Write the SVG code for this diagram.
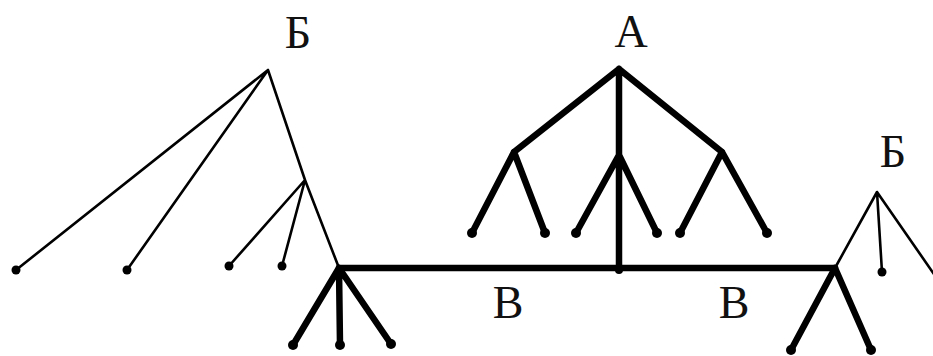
<svg xmlns="http://www.w3.org/2000/svg" width="933" height="356" viewBox="0 0 933 356">
<style>
.thin{stroke:#000;stroke-width:2.6;fill:none;stroke-linecap:round}
.thick{stroke:#000;stroke-width:6.5;fill:none;stroke-linecap:round}
.dot{fill:#000}
.lbl{font-family:"Liberation Serif","Times New Roman",serif;font-size:46px;fill:#111;text-anchor:middle}
</style>
<rect width="933" height="356" fill="#fff"/>
<g id="connectors">
<!-- left Б tree -->
<path class="thin" d="M268,70 L16,270 M268,70 L127,270 M268,70 L305,180 L339,268 M305,180 L229,266 M305,180 L282,266"/>
<!-- bottom-left node -->
<path class="thick" d="M339,268 L293,345 M339,268 L340,345 M339,268 L391,344"/>
<!-- horizontal spine -->
<path class="thick" d="M339,268 L835,268" stroke-linecap="butt"/>
<!-- A tree -->
<path class="thick" d="M619,69 L619,268 M619,69 L514,152 M619,69 L722,152 M514,152 L472,233 M514,152 L545,233 M619,155 L576,233 M619,155 L657,233 M722,152 L680,233 M722,152 L767,233"/>
<!-- right Б tree -->
<path class="thin" d="M877,192 L835,268 M877,192 L882,272 M877,192 L945,290"/>
<!-- bottom-right node -->
<path class="thick" d="M835,268 L791,350 M835,268 L871,350"/>
</g>
<g id="node-B-left">
<text class="lbl" x="298" y="48">Б</text>
<circle class="dot" cx="16" cy="270" r="4.5"/>
<circle class="dot" cx="127" cy="270" r="4.5"/>
<circle class="dot" cx="229" cy="266" r="4.5"/>
<circle class="dot" cx="282" cy="266" r="4.5"/>
</g>
<g id="node-bl">
<circle class="dot" cx="293" cy="345" r="5"/>
<circle class="dot" cx="340" cy="345" r="5"/>
<circle class="dot" cx="391" cy="344" r="5"/>
</g>
<g id="node-A">
<text class="lbl" x="631" y="47">А</text>
<circle class="dot" cx="472" cy="233" r="5"/>
<circle class="dot" cx="545" cy="233" r="5"/>
<circle class="dot" cx="576" cy="233" r="5"/>
<circle class="dot" cx="657" cy="233" r="5"/>
<circle class="dot" cx="680" cy="233" r="5"/>
<circle class="dot" cx="767" cy="233" r="5"/>
<circle class="dot" cx="619" cy="270" r="4"/>
</g>
<g id="label-V1"><text class="lbl" x="508" y="318">В</text></g>
<g id="label-V2"><text class="lbl" x="734" y="318">В</text></g>
<g id="node-B-right">
<text class="lbl" x="893" y="167">Б</text>
<circle class="dot" cx="882" cy="272" r="4.5"/>
</g>
<g id="node-br">
<circle class="dot" cx="791" cy="350" r="5"/>
<circle class="dot" cx="871" cy="350" r="5"/>
</g>
</svg>
